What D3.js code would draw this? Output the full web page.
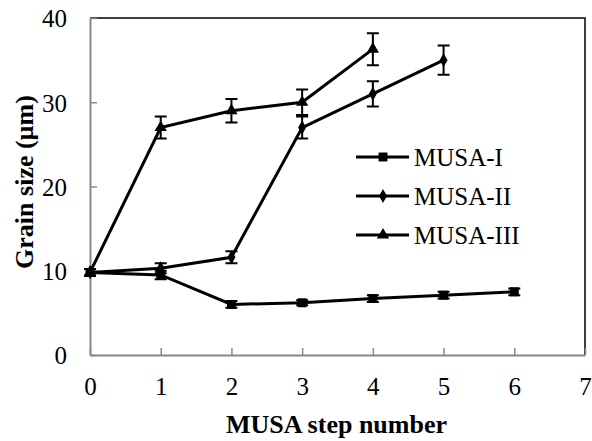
<!DOCTYPE html>
<html>
<head>
<meta charset="utf-8">
<script src="https://cdn.jsdelivr.net/npm/d3@7"></script>
<style>
  svg text { font-family: "Liberation Serif", "Times New Roman", serif !important; }
</style>
</head>
<body style="margin:0">
<svg id="chart" width="592" height="441"></svg>
<script>
const steps = [0, 1, 2, 3, 4, 5, 6];
const musa1 = [9.8, 9.5, 6.0, 6.2, 6.7, 7.1, 7.5];
const musa1Err = [0.4, 0.5, 0.4, 0.3, 0.4, 0.4, 0.4];
const musa2 = [9.8, 10.3, 11.6, 27.0, 31.0, 35.0];
const musa2Err = [0.4, 0.6, 0.7, 1.3, 1.5, 1.75];
const musa3 = [9.8, 27.0, 29.0, 30.0, 36.3];
const musa3Err = [0.4, 1.3, 1.4, 1.5, 1.9];
const seriesNames = ["MUSA-I", "MUSA-II", "MUSA-III"];
const xTicks = [0, 1, 2, 3, 4, 5, 6, 7];
const yTicks = [0, 10, 20, 30, 40];

const font = "Times New Roman";
const w = 592, h = 441;
const m = { left: 90, right: 7, top: 18, bottom: 86 };

const svg = d3.select("#chart");

const x = d3.scaleLinear().domain([0, 7]).range([m.left, w - m.right]);
const y = d3.scaleLinear().domain([0, 40]).range([h - m.bottom, m.top]);

// frame top/right
svg.append("path")
   .attr("d", `M${x(0)},${y(40)}H${x(7)}V${y(0)}`)
   .attr("fill", "none").attr("stroke", "#000").attr("stroke-width", 1.5);

// axes, drawn by d3 then restyled
const gx = svg.append("g").attr("transform", `translate(0,${y(0)})`)
  .call(d3.axisBottom(x).tickValues(xTicks).tickFormat(d3.format("d"))
    .tickSizeInner(-7).tickSizeOuter(0).tickPadding(22));
const gy = svg.append("g").attr("transform", `translate(${x(0)},0)`)
  .call(d3.axisLeft(y).tickValues(yTicks).tickFormat(d3.format("d"))
    .tickSizeInner(-7).tickSizeOuter(0).tickPadding(23));
[gx, gy].forEach(g => {
  g.attr("font-family", font).attr("font-size", 25);
  g.select(".domain").attr("stroke", "#888").attr("stroke-width", 2);
  g.selectAll(".tick line").attr("stroke", "#888").attr("stroke-width", 1.5);
  g.selectAll(".tick text").attr("fill", "#000")
   .attr("font-family", font).attr("font-size", 25);
});
gx.selectAll(".tick text").attr("dy", "0.71em");
gy.selectAll(".tick text").attr("dy", "0.35em");

const series = [
  { name: seriesNames[0], vals: musa1, err: musa1Err, sym: d3.symbolSquare, size: 80 },
  { name: seriesNames[1], vals: musa2, err: musa2Err, sym: d3.symbolDiamond, size: 55 },
  { name: seriesNames[2], vals: musa3, err: musa3Err, sym: d3.symbolTriangle, size: 65 }
];

const line = d3.line().x((d, i) => x(steps[i])).y(d => y(d));

series.forEach(s => {
  const g = svg.append("g");
  g.append("path").attr("d", line(s.vals))
   .attr("fill", "none").attr("stroke", "#000").attr("stroke-width", 3);
  s.vals.forEach((v, i) => {
    const cx = x(steps[i]);
    const e = s.err[i];
    g.append("path")
     .attr("d", `M${cx},${y(v + e)}V${y(v - e)}M${cx - 6},${y(v + e)}H${cx + 6}M${cx - 6},${y(v - e)}H${cx + 6}`)
     .attr("stroke", "#000").attr("stroke-width", 2).attr("fill", "none");
    g.append("path")
     .attr("d", d3.symbol().type(s.sym).size(s.size)())
     .attr("transform", `translate(${cx},${y(v)})`)
     .attr("fill", "#000");
  });
});

// legend
const legend = svg.append("g");
series.forEach((s, i) => {
  const ly = 157 + i * 39;
  legend.append("line").attr("x1", 356).attr("x2", 409).attr("y1", ly).attr("y2", ly)
        .attr("stroke", "#000").attr("stroke-width", 3);
  legend.append("path").attr("d", d3.symbol().type(s.sym).size(s.size)())
        .attr("transform", `translate(383,${ly})`).attr("fill", "#000");
  legend.append("text").attr("x", 414).attr("y", ly + 9)
        .attr("font-family", font).attr("font-size", 25).text(s.name);
});

// axis titles
svg.append("text").attr("x", (225 + 448) / 2).attr("y", 433)
   .attr("text-anchor", "middle").attr("font-family", font).attr("font-size", 26)
   .attr("font-weight", "bold").text("MUSA step number");
svg.append("text").attr("transform", `translate(33,182) rotate(-90)`)
   .attr("text-anchor", "middle").attr("font-family", font).attr("font-size", 26)
   .attr("font-weight", "bold").text("Grain size (µm)");
</script>
</body>
</html>
